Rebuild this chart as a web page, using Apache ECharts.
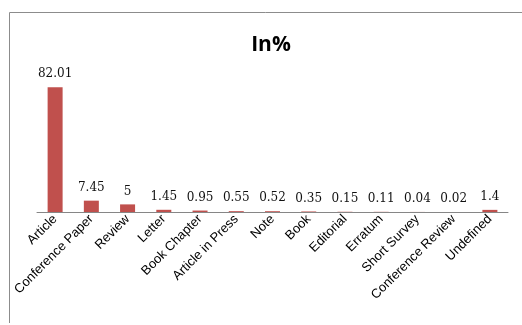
<!DOCTYPE html>
<html>
<head>
<meta charset="utf-8">
<script src="https://cdn.jsdelivr.net/npm/echarts@6/dist/echarts.min.js"></script>
<style>
  html, body { margin: 0; padding: 0; background: #fff; }
  #chart { width: 522px; height: 325px; }
</style>
</head>
<body>
<div id="chart"></div>
<script>
// Document types and their share in percent
const categories = ['Article', 'Conference Paper', 'Review', 'Letter', 'Book Chapter',
  'Article in Press', 'Note', 'Book', 'Editorial', 'Erratum', 'Short Survey',
  'Conference Review', 'Undefined'];
const shares = [82.01, 7.45, 5, 1.45, 0.95, 0.55, 0.52, 0.35, 0.15, 0.11, 0.04, 0.02, 1.4];
const chartTitle = 'In%';

const chart = echarts.init(document.getElementById('chart'), null, { renderer: 'canvas' });
chart.setOption({
  animation: false,
  title: {
    text: chartTitle,
    left: 266,
    textAlign: 'center',
    top: 30,
    textStyle: { fontFamily: 'Open Sans', fontWeight: 'bold', fontSize: 21, color: '#000' }
  },
  graphic: [{
    type: 'polyline',
    shape: { points: [[9.5, 323], [9.5, 12.5], [522, 12.5]] },
    style: { stroke: '#8c8c8c', lineWidth: 1, fill: null }
  }],
  grid: { left: 37, right: 14, top: 75, bottom: 113 },
  xAxis: {
    type: 'category',
    data: categories,
    axisLine: { lineStyle: { color: '#868686', width: 1 } },
    axisTick: { show: false },
    axisLabel: {
      rotate: 45,
      interval: 0,
      margin: 5,
      fontFamily: 'Liberation Sans',
      fontSize: 13,
      color: '#000'
    }
  },
  yAxis: {
    type: 'value',
    min: 0,
    max: 90,
    show: false
  },
  series: [{
    type: 'bar',
    data: shares,
    barWidth: 15,
    itemStyle: { color: '#C0504D' },
    label: {
      show: true,
      position: 'top',
      distance: 7,
      fontFamily: 'DejaVu Serif',
      fontSize: 12,
      color: '#111'
    }
  }]
});
</script>
</body>
</html>
